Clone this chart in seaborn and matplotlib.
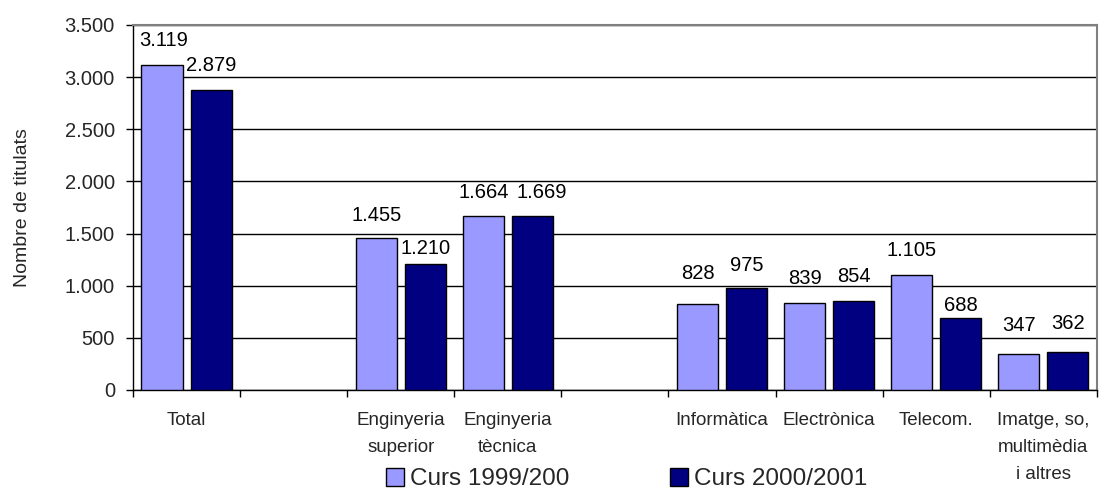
import matplotlib
matplotlib.use("Agg")
import matplotlib.pyplot as plt
import seaborn as sns
import pandas as pd
import numpy as np
from matplotlib.ticker import FuncFormatter, FixedLocator, MultipleLocator

categories = ["Total", "", "Enginyeria\nsuperior", "Enginyeria\ntècnica", " ",
              "Informàtica", "Electrònica", "Telecom.", "Imatge, so,\nmultimèdia\ni altres"]
series = ["Curs 1999/200", "Curs 2000/2001"]
values_1999 = [3119, None, 1455, 1664, None, 828, 839, 1105, 347]
values_2000 = [2879, None, 1210, 1669, None, 975, 854, 688, 362]
colors = ["#9999FF", "#000080"]

# offsets (pixels) of each value label's centre from the top-centre of its bar
label_dy_1999 = [24, 0, 23, 24, 0, 30, 24, 24, 28]
label_dy_2000 = [24, 0, 15, 23, 0, 23, 24, 13, 29]
label_dx_1999 = [2, 0, 0, 0, 0, 0, 0, 0, 0]
label_dx_2000 = [0, 0, 0, 9, 0, 0, 0, 0, 0]

rows = []
for c, a, b in zip(categories, values_1999, values_2000):
    if a is not None:
        rows.append({"cat": c, "serie": series[0], "val": a})
        rows.append({"cat": c, "serie": series[1], "val": b})
df = pd.DataFrame(rows)

sns.set_style("white")
plt.rcParams["font.family"] = ["Liberation Sans", "DejaVu Sans"]

fig = plt.figure(figsize=(10.99, 4.97), dpi=100)
ax = fig.add_axes([0.121, 0.2153, 0.877, 0.7344])

sns.barplot(data=df, x="cat", y="val", hue="serie", order=categories,
            hue_order=series, palette=colors, saturation=1, width=0.916, gap=0.164,
            edgecolor="black", linewidth=1, ax=ax, legend=True, zorder=3)

def fmt(v):
    return f"{int(round(v)):,}".replace(",", ".")

dys = [label_dy_1999, label_dy_2000]
dxs = [label_dx_1999, label_dx_2000]
for si, cont in enumerate(ax.containers):
    for bar in cont:
        h = bar.get_height()
        if np.isnan(h) or h == 0:
            continue
        cx = bar.get_x() + bar.get_width() / 2
        ci = int(round(cx))
        ax.annotate(fmt(h), (cx, h),
                    xytext=(dxs[si][ci], dys[si][ci]), textcoords="offset pixels",
                    ha="center", va="center", fontsize=14.5, color="black", zorder=4)

ax.set_xlim(-0.5, len(categories) - 0.5)
ax.set_ylim(0, 3500)
ax.yaxis.set_major_locator(MultipleLocator(500))
ax.yaxis.set_major_formatter(FuncFormatter(lambda v, p: fmt(v)))
ax.grid(axis="y", color="black", linewidth=1, zorder=0)
ax.grid(axis="x", visible=False)

ax.xaxis.set_major_locator(FixedLocator(np.arange(-0.5, len(categories), 1.0)))
ax.xaxis.set_major_formatter(FuncFormatter(lambda v, p: ""))
ax.set_xticks(np.arange(len(categories)), labels=categories, minor=True)
for lbl in ax.get_xticklabels(minor=True):
    lbl.set_linespacing(1.75)
ax.tick_params(axis="x", which="major", direction="out", length=5, width=1, color="black", bottom=True)
ax.tick_params(axis="x", which="minor", length=0, labelsize=13.5, pad=16)
ax.tick_params(axis="y", direction="out", length=5, width=1, color="black", left=True,
               labelsize=14.5, pad=8)

ax.set_xlabel("")
ax.set_ylabel("Nombre de titulats", fontsize=14, labelpad=24)

for s in ["left", "bottom"]:
    ax.spines[s].set_color("black")
    ax.spines[s].set_linewidth(1)
for s in ["top", "right"]:
    ax.spines[s].set_color("#808080")
    ax.spines[s].set_linewidth(1.5)

leg = ax.legend(loc="center", bbox_to_anchor=(0.570, 0.036), bbox_transform=fig.transFigure,
                ncol=2, frameon=False, fontsize=17.5, handlelength=0.74, handleheight=0.74,
                handletextpad=0.25, columnspacing=4.15)

fig.savefig("out.png", dpi=100)
